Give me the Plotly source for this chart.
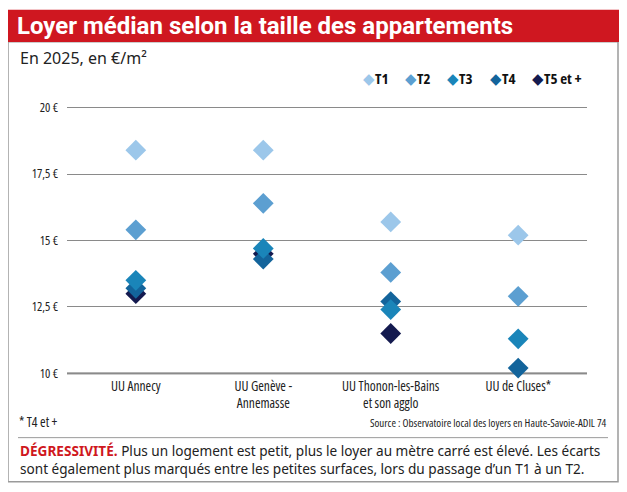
import plotly.graph_objects as go

# ---- data ----
categories = ["UU Annecy", "UU Genève -<br>Annemasse", "UU Thonon-les-Bains<br>et son agglo", "UU de Cluses*"]
series_names = ["T1", "T2", "T3", "T4", "T5 et +"]
t1 = [18.4, 18.4, 15.7, 15.2]
t2 = [15.4, 16.4, 13.8, 12.9]
t3 = [13.5, 14.7, 12.4, 11.3]
t4 = [13.2, 14.3, 12.7, 10.2]
t5 = [13.0, 14.5, 11.5, None]
series_values = [t1, t2, t3, t4, t5]
colors = ["#9cc7ea", "#5c9fd1", "#1a85b9", "#13649b", "#141a4f"]
y_tickvals = [10, 12.5, 15, 17.5, 20]
y_ticktext = ["10 €", "12,5 €", "15 €", "17,5 €", "20 €"]

OFF = 8                 # browser body margin
W, H = 627 - 2 * OFF, 492 - 2 * OFF
# plot area in screen pixels
SL, SR = 67, 587
ST, SB = 108 - 0.1 * 26.56, 373.7 + 0.1 * 26.56
L, R, T, B = SL - OFF, SR - OFF, ST - OFF, SB - OFF

def px(x):
    return (x - OFF - L) / (R - L)

def py(y):
    return (B - (y - OFF)) / (B - T)

def cond(s, stretch="condensed"):
    return f"<span style='font-stretch:{stretch}'>{s}</span>"

COND = "Open Sans"
SANS = "Noto Sans"

fig = go.Figure()
for name, vals, col in reversed(list(zip(series_names, series_values, colors))):
    fig.add_trace(go.Scatter(
        x=list(range(len(categories))), y=vals, mode="markers", name=name,
        marker=dict(symbol="diamond", size=16, color=col, line=dict(width=0)),
        cliponaxis=False, showlegend=False, hoverinfo="skip"))

shapes = [
    dict(type="rect", xref="paper", yref="paper", x0=px(8), x1=px(618), y0=py(482), y1=py(42),
         line=dict(color="#9a9a9a", width=1.5), fillcolor="rgba(0,0,0,0)", layer="below"),
    dict(type="rect", xref="paper", yref="paper", x0=px(7.5), x1=px(619), y0=py(42.3), y1=py(10),
         line=dict(width=0), fillcolor="#cf1720", layer="below"),
    dict(type="line", xref="paper", yref="paper", x0=px(18), x1=px(608), y0=py(438), y1=py(438),
         line=dict(color="#9a9a9a", width=1)),
    dict(type="line", xref="paper", yref="y", x0=0, x1=1, y0=10, y1=10,
         line=dict(color="#9a9a9a", width=2.2), layer="below"),
]

def ann(text, x, y, xanchor="left", size=13, family=COND, color="#222"):
    return dict(text=text, x=px(x), y=py(y), xref="paper", yref="paper",
                xanchor=xanchor, yanchor="middle", showarrow=False, align="left",
                font=dict(family=family, size=size, color=color))

annotations = [
    ann("<b>Loyer médian selon la taille des appartements</b>", 15, 26, size=24, family="Roboto", color="white"),
    ann("En 2025, en €/m²", 18, 58, size=16, family=SANS),
    ann(cond("* T4 et +"), 17, 422, size=13.5),
    ann(cond("Source : Observatoire local des loyers en Haute-Savoie-ADIL 74"), 609, 423, xanchor="right", size=11),
    ann("<b><span style='color:#cf1720'>DÉGRESSIVITÉ.</span></b> Plus un logement est petit, plus le loyer au mètre carré est élevé. Les écarts"
        "<br>sont également plus marqués entre les petites surfaces, lors du passage d’un T1 à un T2.",
        18, 459.5, size=13.6, family=SANS),
]

legend_x = [361, 403, 445, 488, 530]
for name, col, lx in zip(series_names, colors, legend_x):
    annotations.append(ann(cond(f"<span style='color:{col}'>◆</span><b>{name}</b>"), lx, 78, size=15, color="#111"))

fig.update_layout(
    width=W, height=H,
    margin=dict(l=L, r=W - R, t=T, b=H - B, pad=0),
    paper_bgcolor="white", plot_bgcolor="white",
    shapes=shapes, annotations=annotations,
    xaxis=dict(range=[-0.54, 3.54], tickvals=list(range(len(categories))),
               ticktext=[cond(c) for c in categories],
               showgrid=False, zeroline=False, showline=False, ticks="",
               tickfont=dict(family=COND, size=13.5, color="#222"), fixedrange=True),
    yaxis=dict(range=[9.9, 20.1], tickvals=y_tickvals, ticktext=[cond(t) for t in y_ticktext],
               showgrid=True, gridcolor="#8a8a8a", gridwidth=1, zeroline=False, showline=False,
               ticks="", ticklabelstandoff=8,
               tickfont=dict(family=COND, size=12.5, color="#222"), fixedrange=True),
)

fig.write_html("out.html")
